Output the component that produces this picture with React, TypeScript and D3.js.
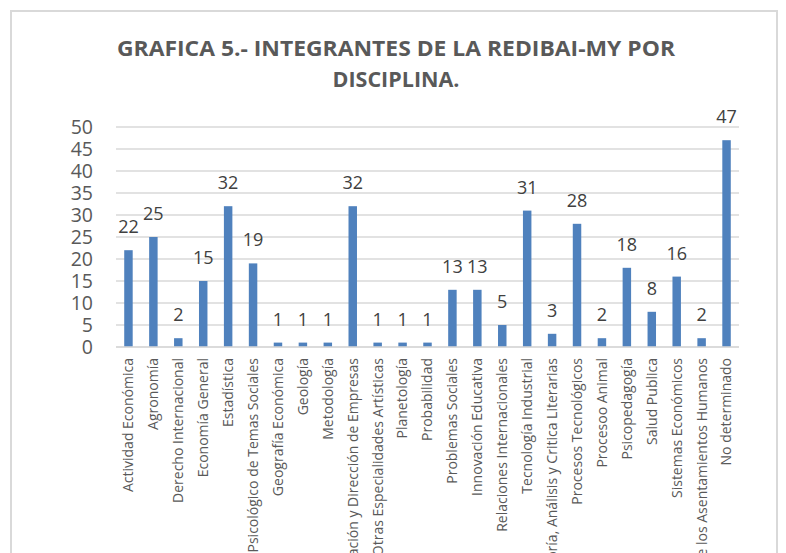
import React, { useEffect, useRef } from 'react';
import * as d3 from 'd3';

const categories = [
  'Actividad Económica',
  'Agronomía',
  'Derecho Internacional',
  'Economía General',
  'Estadística',
  'Estudio Psicológico de Temas Sociales',
  'Geografía Económica',
  'Geología',
  'Metodología',
  'Organización y Dirección de Empresas',
  'Otras Especialidades Artísticas',
  'Planetología',
  'Probabilidad',
  'Problemas Sociales',
  'Innovación Educativa',
  'Relaciones Internacionales',
  'Tecnología Industrial',
  'Teoría, Análisis y Critica Literarias',
  'Procesos Tecnológicos',
  'Procesoo Animal',
  'Psicopedagogía',
  'Salud Publica',
  'Sistemas Económicos',
  'Desarrollo de los Asentamientos Humanos',
  'No determinado',
];

const values = [22, 25, 2, 15, 32, 19, 1, 1, 1, 32, 1, 1, 1, 13, 13, 5, 31, 3, 28, 2, 18, 8, 16, 2, 47];

const yTicks = [0, 5, 10, 15, 20, 25, 30, 35, 40, 45, 50];

const titleLines = ['GRAFICA 5.- INTEGRANTES DE LA REDIBAI-MY POR', 'DISCIPLINA.'];

const App = () => {
  const svgRef = useRef(null);

  useEffect(() => {
    const width = 786;
    const height = 553;
    const svg = d3.select(svgRef.current);
    svg.selectAll('*').remove();

    const font = "'Open Sans', sans-serif";

    // chart frame, bottom runs off the page
    svg.append('rect')
      .attr('x', 11)
      .attr('y', 11)
      .attr('width', 766)
      .attr('height', 560)
      .attr('fill', '#fff')
      .attr('stroke', '#d9d9d9')
      .attr('stroke-width', 2);

    svg.append('g')
      .selectAll('text')
      .data(titleLines)
      .enter()
      .append('text')
      .attr('x', 396)
      .attr('y', (d, i) => 56 + i * 31)
      .attr('text-anchor', 'middle')
      .attr('font-family', font)
      .attr('font-weight', 'bold')
      .attr('font-size', 21.5)
      .attr('fill', '#595959')
      .attr('textLength', (d, i) => (i === 0 ? 558 : null))
      .attr('lengthAdjust', 'spacingAndGlyphs')
      .text(d => d);

    const left = 116;
    const right = 739;
    const x = d3.scaleBand()
      .domain(categories)
      .range([left, right])
      .paddingInner(0.66)
      .paddingOuter(0.33);

    const y = d3.scaleLinear()
      .domain([0, 50])
      .range([347, 127]);

    svg.append('g')
      .selectAll('line')
      .data(yTicks)
      .enter()
      .append('line')
      .attr('x1', left)
      .attr('x2', right)
      .attr('y1', d => y(d))
      .attr('y2', d => y(d))
      .attr('stroke', '#d9d9d9')
      .attr('stroke-width', 1.3);

    svg.append('g')
      .selectAll('text')
      .data(yTicks)
      .enter()
      .append('text')
      .attr('x', 93)
      .attr('y', d => y(d))
      .attr('dy', '0.36em')
      .attr('text-anchor', 'end')
      .attr('font-family', font)
      .attr('font-size', 19.5)
      .attr('fill', '#595959')
      .text(d => d);

    const bars = svg.append('g')
      .selectAll('g')
      .data(categories.map((c, i) => ({ c, v: values[i] })))
      .enter()
      .append('g');

    bars.append('rect')
      .attr('x', d => x(d.c))
      .attr('y', d => y(d.v))
      .attr('width', x.bandwidth())
      .attr('height', d => y(0) - y(d.v))
      .attr('fill', '#4f81bd');

    bars.append('text')
      .attr('x', d => x(d.c) + x.bandwidth() / 2)
      .attr('y', d => y(d.v) - 17)
      .attr('text-anchor', 'middle')
      .attr('font-family', font)
      .attr('font-size', 18)
      .attr('fill', '#404040')
      .text(d => d.v);

    svg.append('line')
      .attr('x1', left)
      .attr('x2', right)
      .attr('y1', y(0))
      .attr('y2', y(0))
      .attr('stroke', '#d9d9d9')
      .attr('stroke-width', 1.3);

    svg.append('g')
      .selectAll('text')
      .data(categories)
      .enter()
      .append('text')
      .attr('transform', d => `translate(${x(d) + x.bandwidth() / 2}, 358) rotate(-90)`)
      .attr('dy', '0.35em')
      .attr('text-anchor', 'end')
      .attr('font-family', font)
      .attr('font-size', 14)
      .attr('fill', '#595959')
      .text(d => d);

    svg.attr('width', width).attr('height', height);
  }, []);

  return (
    <div style={{ position: 'absolute', left: 0, top: 0, width: 786, height: 553, overflow: 'hidden', background: '#fff' }}>
      <svg ref={svgRef} width={786} height={553}></svg>
    </div>
  );
};

export default App;
